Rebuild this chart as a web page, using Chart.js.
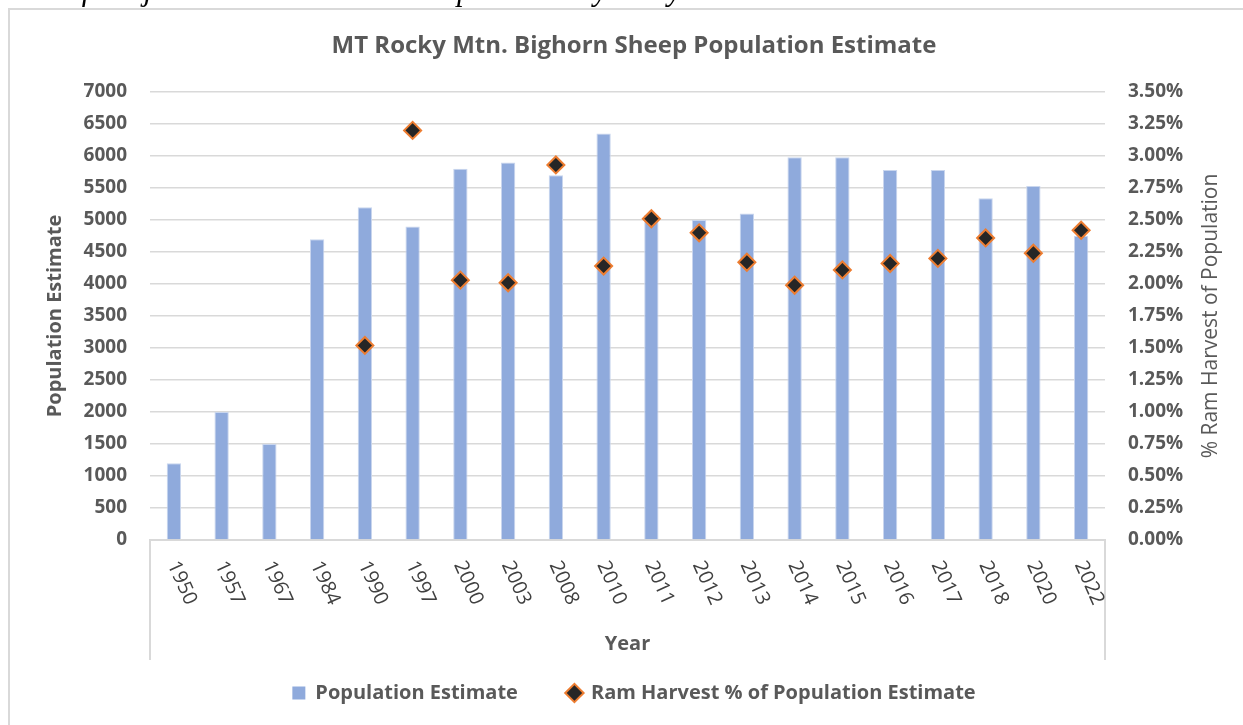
<!DOCTYPE html>
<html>
<head>
<meta charset="utf-8">
<script src="https://cdn.jsdelivr.net/npm/chart.js@4"></script>
<style>
  body { margin: 0; background: #fff; overflow: hidden; }
  #wrap { position: relative; width: 1243px; height: 725px; overflow: hidden; }
  #note { position: absolute; left: 0; top: -26px; font: italic 31px/31px "Liberation Serif", "Times New Roman", serif; color: #000; white-space: nowrap; }
  canvas { position: absolute; left: 0; top: 0; }
</style>
</head>
<body>
<div id="wrap">
  <canvas id="chart" width="1243" height="725"></canvas>
  <div id="note">state of the jurisdiction data are completed every two years.</div>
</div>
<script>
// categories and series
const years = ['1950', '1957', '1967', '1984', '1990', '1997', '2000', '2003', '2008', '2010',
               '2011', '2012', '2013', '2014', '2015', '2016', '2017', '2018', '2020', '2022'];
const population = [1200, 2000, 1500, 4700, 5200, 4900, 5800, 5900, 5700, 6350,
                    5080, 5000, 5100, 5980, 5980, 5780, 5780, 5340, 5530, 4750];
// ram harvest as % of population estimate
const harvestPct = [null, null, null, null, 1.52, 3.20, 2.03, 2.01, 2.93, 2.14,
                    2.51, 2.40, 2.17, 1.99, 2.11, 2.16, 2.20, 2.36, 2.24, 2.42];
const popMax = 7000, popStep = 500;
const pctMax = 3.5, pctStep = 0.25;

const grey = '#595959';
const lineGrey = '#d9d9d9';

Chart.defaults.font.family = '"Open Sans", sans-serif';
Chart.defaults.color = grey;

// frame, category box, slanted year labels and right axis title
const extras = {
  id: 'extras',
  beforeDraw(chart) {
    const c = chart.ctx;
    c.save();
    c.strokeStyle = lineGrey;
    c.lineWidth = 2;
    c.strokeRect(9, 9, 1300, 800);
    c.restore();
  },
  afterDraw(chart) {
    const c = chart.ctx;
    const area = chart.chartArea;
    const x = chart.scales.x;
    c.save();
    c.strokeStyle = lineGrey;
    c.lineWidth = 2;
    c.beginPath();
    c.moveTo(area.left, area.bottom);
    c.lineTo(area.left, 660);
    c.moveTo(area.right, area.bottom);
    c.lineTo(area.right, 660);
    c.stroke();

    c.fillStyle = '#404040';
    c.font = '500 20px "Open Sans"';
    c.textAlign = 'center';
    c.textBaseline = 'middle';
    years.forEach((yr, i) => {
      c.save();
      c.translate(x.getPixelForValue(i) + 8, 583);
      c.rotate(66 * Math.PI / 180);
      c.fillText(yr, 0, 0);
      c.restore();
    });

    c.fillStyle = grey;
    c.font = '21px "Open Sans"';
    c.translate(1211, (area.top + area.bottom) / 2);
    c.rotate(-Math.PI / 2);
    c.fillText('% Ram Harvest of Population', 0, 0);
    c.restore();
  }
};

new Chart(document.getElementById('chart'), {
  data: {
    labels: years,
    datasets: [{
      type: 'bar',
      label: 'Population Estimate',
      data: population,
      backgroundColor: '#8FAADC',
      borderColor: '#c9d6ee',
      borderWidth: 1,
      barPercentage: 0.3,
      categoryPercentage: 1,
      yAxisID: 'y',
      order: 1
    }, {
      type: 'line',
      label: 'Ram Harvest % of Population Estimate',
      data: harvestPct,
      showLine: false,
      pointStyle: 'rectRot',
      pointRadius: 8.5,
      pointHoverRadius: 8.5,
      backgroundColor: '#262626',
      borderColor: '#ED7D31',
      borderWidth: 2,
      pointBorderWidth: 2,
      yAxisID: 'y1',
      order: 0
    }]
  },
  options: {
    responsive: false,
    animation: false,
    devicePixelRatio: 1,
    layout: { padding: { left: 25, right: 0, top: 0, bottom: 12 } },
    plugins: {
      title: {
        display: true,
        text: 'MT Rocky Mtn. Bighorn Sheep Population Estimate',
        color: grey,
        font: { size: 24, weight: 'bold' },
        padding: { top: 31.6, bottom: 31.6 }
      },
      legend: {
        position: 'bottom',
        labels: {
          usePointStyle: true,
          boxWidth: 13,
          boxHeight: 13,
          padding: 50,
          color: grey,
          font: { size: 20, weight: 'bold' },
          sort: (a, b) => a.datasetIndex - b.datasetIndex,
          generateLabels(chart) {
            const items = Chart.defaults.plugins.legend.labels.generateLabels(chart);
            items.forEach(it => {
              it.pointStyle = it.datasetIndex === 0 ? 'rect' : 'rectRot';
              if (it.datasetIndex === 0) it.lineWidth = 0;
            });
            return items;
          }
        }
      },
      tooltip: { enabled: false }
    },
    scales: {
      x: {
        grid: { display: false },
        border: { display: true, color: lineGrey, width: 2 },
        ticks: { display: false },
        title: {
          display: true,
          text: 'Year',
          color: grey,
          font: { size: 20, weight: 'bold' },
          padding: { top: 0, bottom: -23 }
        },
        afterFit(s) { s.height = 93; }
      },
      y: {
        position: 'left',
        min: 0,
        max: popMax,
        ticks: {
          stepSize: popStep,
          padding: 23,
          color: grey,
          font: { size: 19, weight: 'bold' },
          callback: v => String(v)
        },
        grid: { color: lineGrey, lineWidth: 1.5, drawTicks: false },
        border: { display: false },
        title: {
          display: true,
          text: 'Population Estimate',
          color: grey,
          font: { size: 20, weight: 'bold' },
          padding: { top: 18, bottom: 0 }
        },
        afterFit(s) { s.width = 125; }
      },
      y1: {
        position: 'right',
        min: 0,
        max: pctMax,
        ticks: {
          stepSize: pctStep,
          padding: 23,
          color: grey,
          font: { size: 19, weight: 'bold' },
          callback: v => v.toFixed(2) + '%'
        },
        grid: { drawOnChartArea: false, drawTicks: false },
        border: { display: false },
        afterFit(s) { s.width = 138; }
      }
    }
  },
  plugins: [extras]
});
</script>
</body>
</html>
